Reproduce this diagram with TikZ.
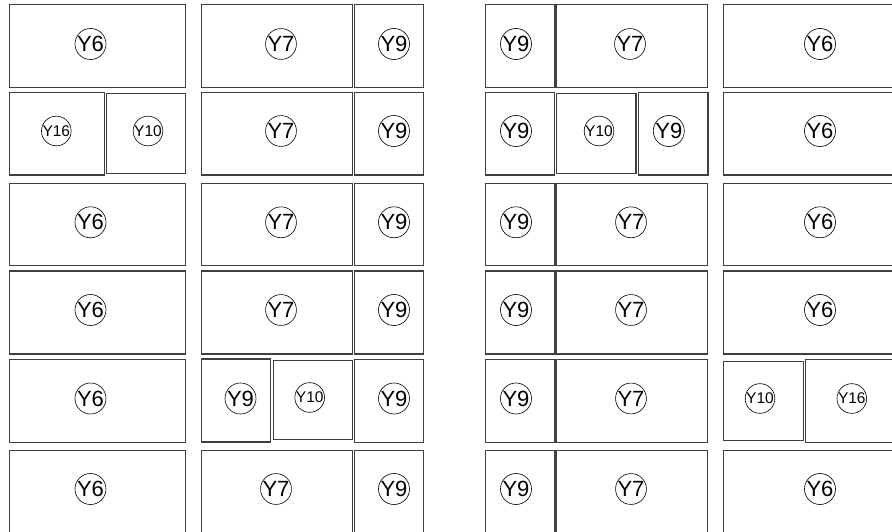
\documentclass[tikz,border=0pt]{standalone}
\usepackage{fontspec}
\setmainfont{Liberation Sans}
\usepackage{tikz}
\tikzset{
  room/.style={draw=black!75, line width=1.1pt},
  tag/.style={draw, circle, line width=0.6pt, minimum size=25pt, inner sep=0pt, font=\fontsize{22}{22}\selectfont},
  smalltag/.style={tag, font=\fontsize{15.5}{15.5}\selectfont}
}

\begin{document}
\begin{tikzpicture}[x=1pt, y=-1pt]
        \useasboundingbox (0,0) rectangle (892,532);
        % Left block, row 1
        \draw[room] (9.3,4.3) rectangle (185.5,87.3);
        \draw[room] (201.3,4.3) rectangle (352.3,87.3);
        \draw[room] (354.7,4.3) rectangle (423.7,87.3);
        \node[tag] (l1a) at (90.5,44) {Y6};
        \node[tag] (l1b) at (281,44) {Y7};
        \node[tag] (l1c) at (394,44) {Y9};
        % Left block, row 2
        \draw[room] (9.3,92.3) rectangle (104.7,175);
        \draw[room] (106.3,93.7) rectangle (185.7,173.3);
        \draw[room] (201.3,92.3) rectangle (352.3,175);
        \draw[room] (354.7,92.3) rectangle (423.7,175);
        \node[smalltag] (l2a) at (56.3,131) {Y16};
        \node[smalltag] (l2b) at (148,131) {Y10};
        \node[tag] (l2c) at (281,131) {Y7};
        \node[tag] (l2d) at (394,131) {Y9};
        % Left block, row 3
        \draw[room] (9.3,183.3) rectangle (185.5,265.7);
        \draw[room] (201.3,183.3) rectangle (352.3,265.7);
        \draw[room] (354.7,183.3) rectangle (423.7,265.7);
        \node[tag] (l3a) at (90.5,222.3) {Y6};
        \node[tag] (l3b) at (281,222.3) {Y7};
        \node[tag] (l3c) at (394,222.3) {Y9};
        % Left block, row 4
        \draw[room] (9.3,271) rectangle (185.5,354);
        \draw[room] (201.3,271) rectangle (352.3,354);
        \draw[room] (354.7,271) rectangle (423.7,354);
        \node[tag] (l4a) at (90.5,310) {Y6};
        \node[tag] (l4b) at (281,310) {Y7};
        \node[tag] (l4c) at (394,310) {Y9};
        % Left block, row 5
        \draw[room] (9.3,359.3) rectangle (185.5,442.3);
        \draw[room] (201.7,359) rectangle (270.7,442);
        \draw[room] (273.3,360.3) rectangle (352.7,439.7);
        \draw[room] (354.7,359.3) rectangle (423.7,442.3);
        \node[tag] (l5a) at (90.5,398.5) {Y6};
        \node[tag] (l5b) at (240.5,398.5) {Y9};
        \node[smalltag] (l5c) at (309.7,397.5) {Y10};
        \node[tag] (l5d) at (394,398.5) {Y9};
        % Left block, row 6
        \draw[room] (9.3,450.3) rectangle (185.5,535);
        \draw[room] (201.3,450.3) rectangle (352.3,535);
        \draw[room] (354.7,450.3) rectangle (423.7,535);
        \node[tag] (l6a) at (90.5,489) {Y6};
        \node[tag] (l6b) at (276,489) {Y7};
        \node[tag] (l6c) at (394,489) {Y9};
        % Right block, row 1
        \draw[room] (485.7,4.3) rectangle (554.3,87.3);
        \draw[room] (556,4.3) rectangle (707.3,87.3);
        \draw[room] (723.3,4.3) rectangle (900,87.3);
        \node[tag] (r1a) at (516,44) {Y9};
        \node[tag] (r1b) at (630,44) {Y7};
        \node[tag] (r1c) at (820,44) {Y6};
        % Right block, row 2
        \draw[room] (485.7,92.3) rectangle (554.3,175);
        \draw[room] (556.3,93.7) rectangle (636,173.3);
        \draw[room] (638.7,92.3) rectangle (708,175);
        \draw[room] (723.3,92.3) rectangle (900,175);
        \node[tag] (r2a) at (516,131) {Y9};
        \node[smalltag] (r2b) at (599,131) {Y10};
        \node[tag] (r2c) at (668.8,131) {Y9};
        \node[tag] (r2d) at (820,131) {Y6};
        % Right block, row 3
        \draw[room] (485.7,183.3) rectangle (554.3,265.7);
        \draw[room] (556,183.3) rectangle (707.3,265.7);
        \draw[room] (723.3,183.3) rectangle (900,265.7);
        \node[tag] (r3a) at (516,222.3) {Y9};
        \node[tag] (r3b) at (631,222.3) {Y7};
        \node[tag] (r3c) at (820,222.3) {Y6};
        % Right block, row 4
        \draw[room] (485.7,271) rectangle (554.3,354);
        \draw[room] (556,271) rectangle (707.3,354);
        \draw[room] (723.3,271) rectangle (900,354);
        \node[tag] (r4a) at (516,310) {Y9};
        \node[tag] (r4b) at (631,310) {Y7};
        \node[tag] (r4c) at (820,310) {Y6};
        % Right block, row 5
        \draw[room] (485.7,359.3) rectangle (554.3,442.3);
        \draw[room] (556,359.3) rectangle (707.3,442.3);
        \draw[room] (723.3,361.3) rectangle (803.3,440.3);
        \draw[room] (805.3,359.3) rectangle (900,442.3);
        \node[tag] (r5a) at (516,398.5) {Y9};
        \node[tag] (r5b) at (631,398.5) {Y7};
        \node[smalltag] (r5c) at (760,398.5) {Y10};
        \node[smalltag] (r5d) at (851.8,398.5) {Y16};
        % Right block, row 6
        \draw[room] (485.7,450.3) rectangle (554.3,535);
        \draw[room] (556,450.3) rectangle (707.3,535);
        \draw[room] (723.3,450.3) rectangle (900,535);
        \node[tag] (r6a) at (516,489) {Y9};
        \node[tag] (r6b) at (631,489) {Y7};
        \node[tag] (r6c) at (820,489) {Y6};
      \end{tikzpicture}
\end{document}
